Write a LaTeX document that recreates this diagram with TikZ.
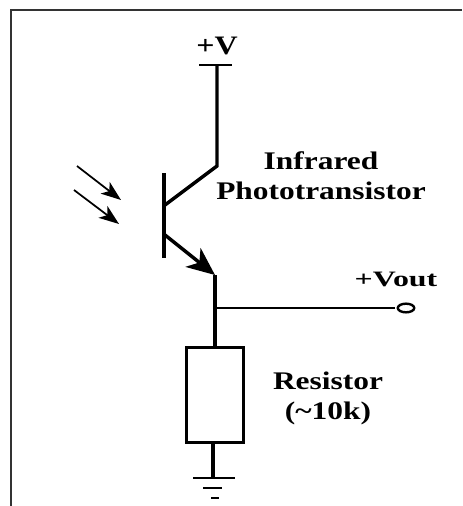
\documentclass[tikz,border=0pt]{standalone}
\usepackage{fontspec}
\setmainfont{Liberation Serif}
\usetikzlibrary{positioning,arrows.meta}

\begin{document}
\begin{tikzpicture}[
  x=0.75pt, y=-0.75pt,
  wire/.style={line width=2.6pt},
  thin wire/.style={line width=2.2pt},
  ray/.style={line width=1.3pt, -{Stealth[length=15pt, width=11pt, inset=4pt]}},
  emit/.style={line width=2.6pt, -{Stealth[length=21pt, width=18pt, inset=6pt]}},
  res/.style={draw, line width=2.6pt, minimum width=42.5pt, minimum height=71pt, inner sep=0pt},
  lbl/.style={font=\bfseries\fontsize{19}{22.5}\selectfont, align=center, inner sep=0pt, xscale=1.24},
  plain/.style={font=\bfseries\fontsize{16.5}{20}\selectfont, inner sep=0pt, xscale=1.45},
  supplylbl/.style={font=\bfseries\fontsize{20}{22}\selectfont, inner sep=0pt, xscale=1.2},
  term/.style={draw, line width=1.8pt, fill=white, shape=circle, xscale=1.9, minimum size=6.5pt, inner sep=0pt}
]
\useasboundingbox (0,0) rectangle (462,506);

% Frame, open on the right and at the bottom
\coordinate (frameA) at (11,506);
\coordinate (frameB) at (11,10);
\coordinate (frameC) at (462,10);
\draw[line width=1.2pt, black!80] (frameA) -- (frameB) -- (frameC);

% Transistor points
\coordinate (supply) at (217,65);
\coordinate (supplyL) at (199,65);
\coordinate (supplyR) at (232,65);
\coordinate (bend) at (217,166);
\coordinate (coll) at (165,205);
\coordinate (baseT) at (164,173);
\coordinate (baseB) at (164,258);
\coordinate (emitS) at (165,235);
\coordinate (emitE) at (215,275);
\coordinate (junct) at (215,308);
\coordinate (gndA) at (213,478);
\coordinate (gndAL) at (193,478);
\coordinate (gndAR) at (235,478);
\coordinate (gndBL) at (203,488);
\coordinate (gndBR) at (222,488);
\coordinate (gndCL) at (211,498);
\coordinate (gndCR) at (219,498);
\coordinate (rayA) at (77,166);
\coordinate (rayAe) at (121,200);
\coordinate (rayB) at (74,190);
\coordinate (rayBe) at (119,224);

% Resistor and output terminal
\node[res] (resistor) at (215,395) {};
\node[term] (vout) at (406,308) {};

% Wires
\draw[wire] (supply) -- (bend) -- (coll);
\draw[thin wire] (supplyL) -- (supplyR);
\draw[wire] (baseT) -- (baseB);
\draw[emit] (emitS) -- (emitE);
\draw[wire] (emitE) -- (resistor.north);
\draw[thin wire] (junct) -- (vout);
\draw[wire] (resistor.south -| gndA) -- (gndA);
\draw[thin wire] (gndAL) -- (gndAR);
\draw[thin wire] (gndBL) -- (gndBR);
\draw[thin wire] (gndCL) -- (gndCR);

% Light falling on the base
\draw[ray] (rayA) -- (rayAe);
\draw[ray] (rayB) -- (rayBe);

% Labels
\node[supplylbl] (vplus) at (217,46) {+V};
\node[lbl] (irlabel) at (321,176) {Infrared\\Phototransistor};
\node[plain] (voutlabel) at (396,279) {+Vout};
\node[lbl] (reslabel) at (328,398) {Resistor\\(\textasciitilde10k)};

\end{tikzpicture}
\end{document}
